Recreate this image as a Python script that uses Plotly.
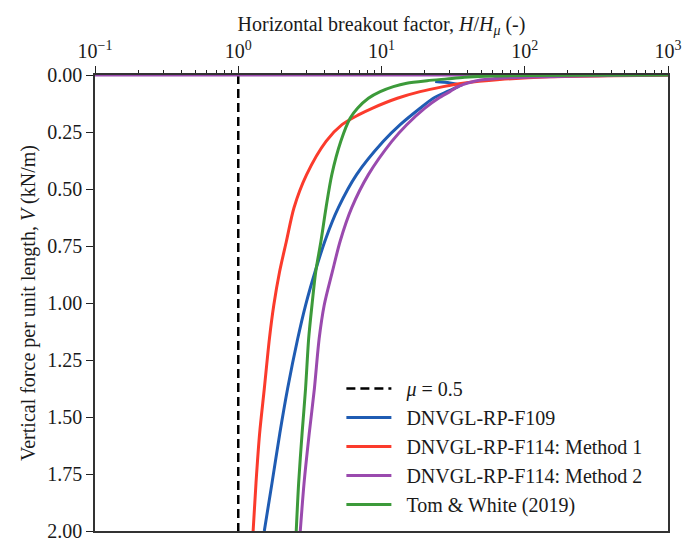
import plotly.graph_objects as go

# ---- data ----
mu_x = [1.0, 1.0]
mu_v = [0.0, 2.0]

f109_v = [0.029, 0.035, 0.044, 0.051, 0.073, 0.102, 0.146, 0.218, 0.291, 0.437, 0.582, 0.72, 0.865, 1.01, 1.157, 1.376, 1.572, 1.79, 2.0]
f109_x = [23.7, 30, 35.5, 34.3, 28.6, 23, 18.6, 13.5, 10.3, 6.7, 5.0, 4.07, 3.43, 2.95, 2.6, 2.21, 1.95, 1.72, 1.52]

m1_v = [0.001, 0.003, 0.008, 0.02, 0.036, 0.051, 0.073, 0.102, 0.146, 0.175, 0.218, 0.291, 0.437, 0.582, 0.728, 0.865, 1.01, 1.157, 1.376, 1.572, 1.79, 2.0]
m1_x = [1000, 400, 150, 67, 37, 27, 18.6, 12.9, 8.6, 6.9, 5.3, 4.1, 3.0, 2.45, 2.17, 1.94, 1.77, 1.65, 1.52, 1.41, 1.33, 1.27]

m2_v = [0.0, 0.0, 0.005, 0.012, 0.022, 0.035, 0.044, 0.051, 0.073, 0.102, 0.146, 0.218, 0.291, 0.437, 0.582, 0.728, 0.865, 1.01, 1.157, 1.376, 1.572, 1.79, 2.0]
m2_x = [0.1, 1000, 200, 80, 49, 40, 36.5, 34, 30, 25, 20, 15, 11.8, 8.1, 6.2, 5.15, 4.53, 3.98, 3.67, 3.4, 3.13, 2.88, 2.71]

tw_v = [0.0005, 0.004, 0.01, 0.017, 0.025, 0.036, 0.051, 0.073, 0.102, 0.146, 0.189, 0.291, 0.437, 0.582, 0.728, 0.865, 1.01, 1.157, 1.376, 1.572, 1.79, 2.0]
tw_x = [1000, 60, 38, 28.6, 20.8, 15, 12.1, 9.8, 8.1, 6.8, 6.05, 5.2, 4.5, 4.1, 3.78, 3.47, 3.27, 3.1, 2.95, 2.79, 2.64, 2.54]

x_tick_vals = [0.1, 1, 10, 100, 1000]
x_tick_text = ["10<sup>−1</sup>", "10<sup>0</sup>", "10<sup>1</sup>", "10<sup>2</sup>", "10<sup>3</sup>"]
x_minor_vals = [m * 10 ** e for e in range(-1, 3) for m in range(2, 10)]
y_tick_vals = [0, 0.25, 0.5, 0.75, 1.0, 1.25, 1.5, 1.75, 2.0]
y_tick_text = [f"{v:.2f}" for v in y_tick_vals]

FONT = "Liberation Serif"
FS = 20
PAD = "\u2002"

fig = go.Figure()
fig.add_trace(go.Scatter(x=mu_x, y=mu_v, mode="lines", name=PAD + "<i>μ</i> = 0.5",
                         line=dict(color="black", width=2.5, dash="9px,5px")))
fig.add_trace(go.Scatter(x=f109_x, y=f109_v, mode="lines", name=PAD + "DNVGL-RP-F109",
                         line=dict(color="#1f5cb3", width=3, shape="spline", smoothing=0.8)))
fig.add_trace(go.Scatter(x=m1_x, y=m1_v, mode="lines", name=PAD + "DNVGL-RP-F114: Method 1",
                         line=dict(color="#fb3b2c", width=3, shape="spline", smoothing=0.8)))
fig.add_trace(go.Scatter(x=m2_x, y=m2_v, mode="lines", name=PAD + "DNVGL-RP-F114: Method 2",
                         line=dict(color="#9a4aae", width=3, shape="spline", smoothing=0.8)))
fig.add_trace(go.Scatter(x=tw_x, y=tw_v, mode="lines", name=PAD + "Tom &amp; White (2019)",
                         line=dict(color="#3c9a3a", width=3, shape="spline", smoothing=0.8)))

fig.update_layout(
    width=699, height=540,
    margin=dict(l=95, r=31, t=75, b=7),
    paper_bgcolor="white", plot_bgcolor="white",
    font=dict(family=FONT, size=FS, color="#1a1a1a"),
    legend=dict(x=0.43, y=0.355, xanchor="left", yanchor="top",
                bgcolor="rgba(0,0,0,0)", font=dict(family=FONT, size=FS),
                itemwidth=45, tracegroupgap=0),
    xaxis=dict(
        type="log", side="top", range=[-1, 3],
        tickmode="array", tickvals=x_tick_vals, ticktext=x_tick_text,
        ticks="outside", ticklen=7, tickwidth=1.3, tickcolor="#222",
        showline=True, linecolor="#333", linewidth=1.5, mirror=True,
        showgrid=False, zeroline=False,
        minor=dict(tickvals=x_minor_vals, ticks="outside", ticklen=3.5,
                   tickwidth=1, tickcolor="#222", showgrid=False),
        title=dict(text="Horizontal breakout factor, <i>H</i>/<i>H</i><sub><i>μ</i></sub> (-)",
                   font=dict(family=FONT, size=FS), standoff=0),
        tickfont=dict(family=FONT, size=FS),
    ),
    yaxis=dict(
        range=[2, 0], automargin=False,
        tickmode="array", tickvals=y_tick_vals, ticktext=y_tick_text,
        ticks="outside", ticklen=7, tickwidth=1.3, tickcolor="#222",
        ticklabeloverflow="allow",
        showline=True, linecolor="#333", linewidth=1.5, mirror=True,
        showgrid=False, zeroline=False,
        title=dict(text="Vertical force per unit length, <i>V</i> (kN/m)",
                   font=dict(family=FONT, size=FS), standoff=6),
        tickfont=dict(family=FONT, size=FS),
    ),
)

fig.write_html("out.html")
